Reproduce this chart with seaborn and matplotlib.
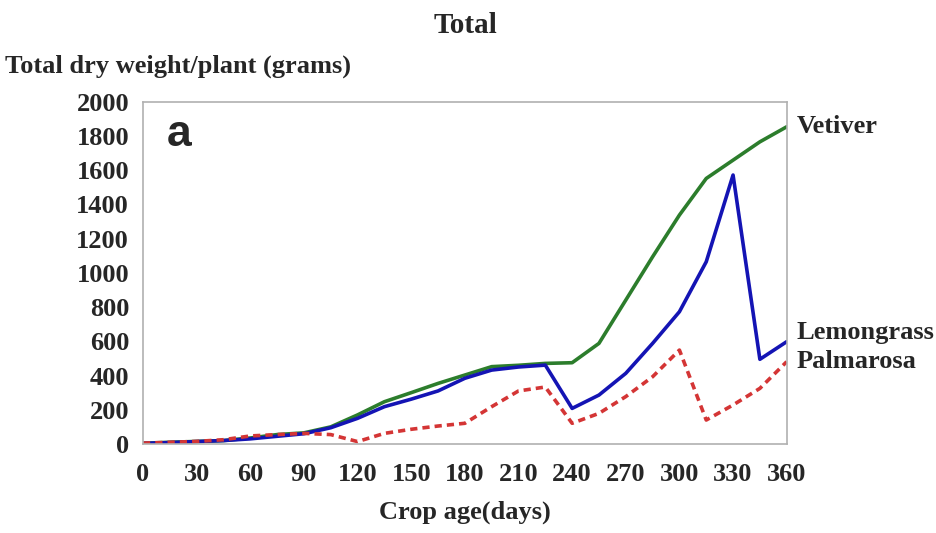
import numpy as np
import pandas as pd
import matplotlib
matplotlib.use("Agg")
import matplotlib.pyplot as plt
import seaborn as sns
from matplotlib.ticker import MultipleLocator

days = [0, 15, 30, 45, 60, 75, 90, 105, 120, 135, 150, 165, 180, 195, 210,
        225, 240, 255, 270, 285, 300, 315, 330, 345, 360]
vetiver = [4, 10, 15, 20, 35, 55, 65, 100, 170, 247, 300, 354, 403, 452, 460,
           471, 475, 588, 841, 1094, 1338, 1552, 1659, 1766, 1854]
lemongrass = [4, 8, 14, 20, 30, 45, 60, 95, 150, 218, 262, 310, 384, 432, 450,
              461, 208, 286, 413, 588, 773, 1065, 1572, 495, 598]
palmarosa = [5, 10, 15, 25, 47, 55, 62, 55, 14, 62, 86, 105, 121, 218, 310,
             333, 121, 179, 277, 393, 549, 140, 228, 325, 481]
series_names = ["Vetiver", "Lemongrass", "Palmarosa"]
series_colors = ["#2c7d2c", "#1414b4", "#d43535"]
x_ticks = list(range(0, 361, 30))
y_ticks = list(range(0, 2001, 200))

df = pd.DataFrame({
    "day": days * 3,
    "weight": vetiver + lemongrass + palmarosa,
    "crop": [n for n in series_names for _ in days],
})

sns.set_style("white")
plt.rcParams["font.family"] = ["Liberation Serif", "DejaVu Serif"]
plt.rcParams["font.weight"] = "bold"

fig = plt.figure(figsize=(9.37, 5.33), dpi=100)
ax = fig.add_axes([0.1526, 0.167, 0.687, 0.642])

sns.lineplot(data=df, x="day", y="weight", hue="crop", style="crop",
             hue_order=series_names, style_order=series_names,
             palette=dict(zip(series_names, series_colors)),
             dashes={"Vetiver": "", "Lemongrass": "", "Palmarosa": (2, 1.4)},
             linewidth=2.6, legend=False, ax=ax)

ax.set_xlim(0, 360)
ax.set_ylim(0, 2000)
ax.set_xticks(x_ticks)
ax.xaxis.set_minor_locator(MultipleLocator(15))
ax.set_yticks(y_ticks)
ax.tick_params(axis="both", which="both", direction="out", length=6,
               width=1, color="#aaaaaa", labelsize=19, pad=4)
ax.tick_params(axis="x", pad=8)
for lab in ax.get_xticklabels() + ax.get_yticklabels():
    lab.set_fontweight("bold")
for s in ax.spines.values():
    s.set_color("#b0b0b0")
    s.set_linewidth(1.2)
    s.set_visible(True)

ax.set_xlabel("Crop age(days)", fontsize=19, fontweight="bold", labelpad=10)
ax.set_ylabel("")
fig.text(0.005, 0.876, "Total dry weight/plant (grams)", fontsize=19,
         fontweight="bold", ha="left", va="center")
fig.text(0.497, 0.953, "Total", fontsize=21, fontweight="bold",
         ha="center", va="center")
ax.text(0.037, 0.905, "a", transform=ax.transAxes, fontsize=32,
        fontweight="bold", family=["Liberation Sans", "DejaVu Sans"],
        ha="left", va="center")

label_y = {"Vetiver": 1854, "Lemongrass": 650, "Palmarosa": 480}
for name in series_names:
    ax.annotate(name, xy=(360, label_y[name]), xytext=(7, 0),
                textcoords="offset points", fontsize=19, fontweight="bold",
                ha="left", va="center", annotation_clip=False)

fig.savefig("out.png", dpi=100)
